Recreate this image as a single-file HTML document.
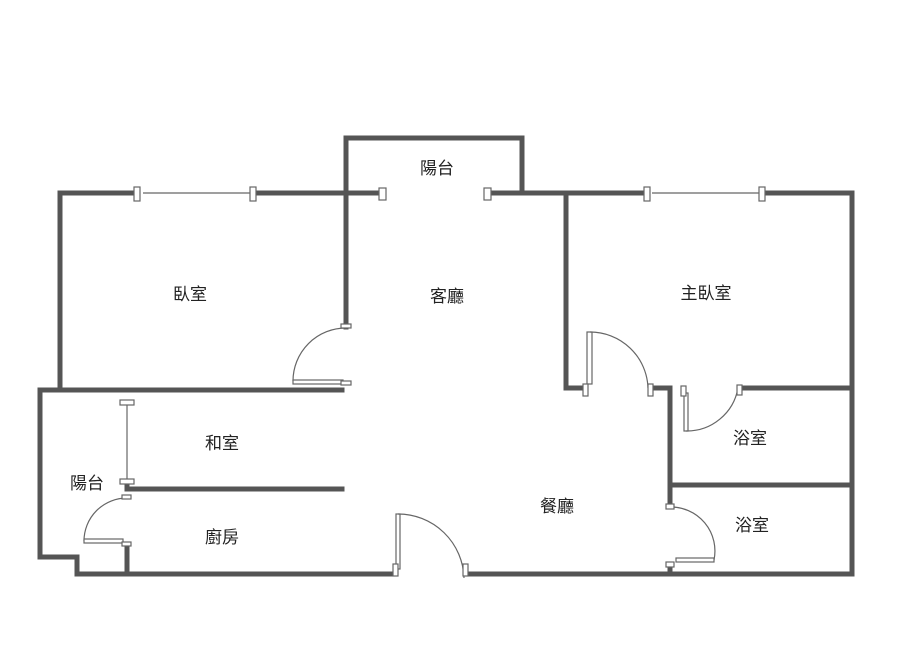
<!DOCTYPE html>
<html><head><meta charset="utf-8"><style>
html,body{margin:0;padding:0;background:#fff}
svg{display:block}
text{font-family:"Liberation Sans","Noto Sans CJK TC",sans-serif;font-size:17px;fill:#222;text-anchor:middle}
</style></head><body>
<svg width="900" height="648" viewBox="0 0 900 648" xmlns="http://www.w3.org/2000/svg">
<g stroke="#555" stroke-width="5" fill="none" stroke-linecap="square">
<path d="M346 327 V138 H522 V193"/>
<path d="M60 390 V193 H135"/>
<path d="M255 193 H378"/>
<path d="M493 193 H646"/>
<path d="M764 193 H852 V574 H470"/>
<path d="M40 390 H342"/>
<path d="M40 390 V557 H77 V574 H392"/>
<path d="M127 484 V489 H342"/>
<path d="M127 545 V574"/>
<path d="M566 193 V388 H583"/>
<path d="M652 388 H670 V502"/>
<path d="M742 388 H852"/>
<path d="M670 485 H852"/>
<path d="M670 566 V574"/>
</g>
<g stroke="#666" stroke-width="1.2" fill="#fff">
<line x1="143" y1="193" x2="255" y2="193"/>
<line x1="652" y1="193" x2="762" y2="193"/>
<rect x="134" y="187" width="6" height="14"/>
<rect x="250" y="187" width="6" height="14"/>
<rect x="644" y="187" width="6" height="14"/>
<rect x="759" y="187" width="6" height="14"/>
<rect x="379" y="188" width="7" height="12"/>
<rect x="484" y="188" width="7" height="12"/>
<line x1="127" y1="403" x2="127" y2="480"/>
<rect x="120" y="400" width="14" height="5"/>
<rect x="120" y="479" width="14" height="5"/>
<path d="M293 381 A53 53 0 0 1 346 328" fill="none"/>
<rect x="293" y="380" width="50" height="4"/>
<rect x="341" y="381" width="10" height="4"/>
<rect x="341" y="324" width="10" height="4"/>
<path d="M84 541 A43 43 0 0 1 127 498" fill="none"/>
<rect x="84" y="539" width="39" height="4"/>
<rect x="122" y="542" width="9" height="4"/>
<rect x="122" y="495" width="9" height="4"/>
<rect x="396" y="514" width="4" height="55"/>
<path d="M398 514 A66 66 0 0 1 464 578" fill="none"/>
<rect x="393" y="564" width="5" height="12"/>
<rect x="463" y="564" width="5" height="12"/>
<rect x="587" y="332" width="5" height="52"/>
<path d="M590 332 A58 58 0 0 1 648 388" fill="none"/>
<rect x="583" y="384" width="5" height="12"/>
<rect x="648" y="384" width="5" height="12"/>
<rect x="684" y="393" width="4" height="38"/>
<path d="M686 431 A52 52 0 0 0 738 388" fill="none"/>
<rect x="681" y="386" width="5" height="10"/>
<rect x="737" y="385" width="5" height="10"/>
<path d="M670 507 A44 44 0 0 1 714 560" fill="none"/>
<rect x="676" y="558" width="38" height="4"/>
<rect x="666" y="504" width="8" height="5"/>
<rect x="666" y="562" width="8" height="5"/>
</g>
<text x="437" y="174">陽台</text>
<text x="190" y="300">臥室</text>
<text x="447" y="302">客廳</text>
<text x="706" y="299">主臥室</text>
<text x="222" y="449">和室</text>
<text x="87" y="489">陽台</text>
<text x="750" y="444">浴室</text>
<text x="557" y="512">餐廳</text>
<text x="222" y="543">廚房</text>
<text x="752" y="531">浴室</text>
</svg>
</body></html>
